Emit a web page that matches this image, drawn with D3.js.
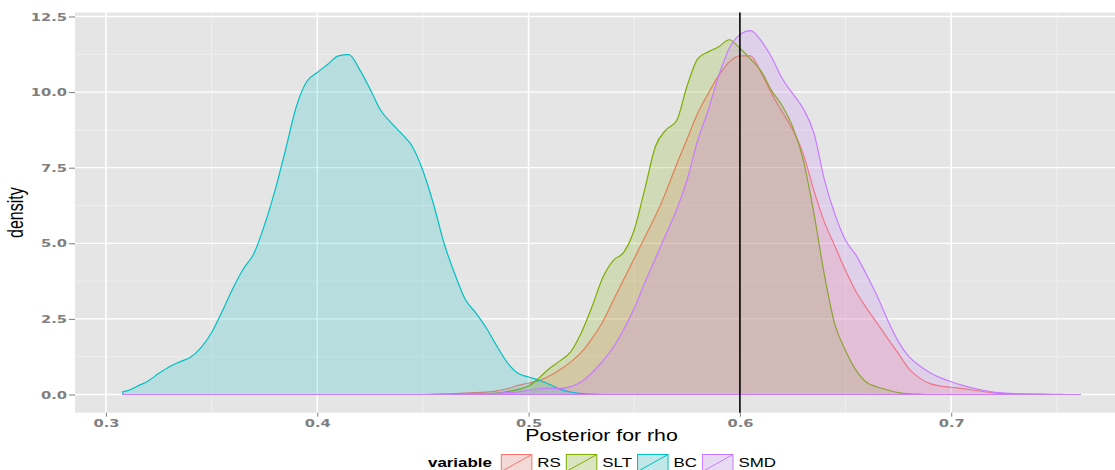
<!DOCTYPE html>
<html>
<head>
<meta charset="utf-8">
<script src="https://cdn.jsdelivr.net/npm/d3@7"></script>
<style>
  body { margin: 0; background: #fff; }
  svg { display: block; }
</style>
</head>
<body>
<div id="chart"></div>
<script>
// x grid (posterior for rho) shared by all four density curves
var rho = [0.308, 0.310, 0.315, 0.320, 0.325, 0.330, 0.335, 0.340, 0.345, 0.350,
  0.355, 0.360, 0.365, 0.370, 0.375, 0.380, 0.385, 0.390, 0.395, 0.400,
  0.405, 0.410, 0.415, 0.420, 0.425, 0.430, 0.435, 0.440, 0.445, 0.450,
  0.455, 0.460, 0.465, 0.470, 0.475, 0.480, 0.485, 0.490, 0.495, 0.500,
  0.505, 0.510, 0.515, 0.520, 0.525, 0.530, 0.535, 0.540, 0.545, 0.550,
  0.555, 0.560, 0.565, 0.570, 0.575, 0.580, 0.585, 0.590, 0.595, 0.600,
  0.605, 0.610, 0.615, 0.620, 0.625, 0.630, 0.635, 0.640, 0.645, 0.650,
  0.655, 0.660, 0.665, 0.670, 0.675, 0.680, 0.685, 0.690, 0.695, 0.700,
  0.705, 0.710, 0.715, 0.720, 0.725, 0.730, 0.735, 0.740, 0.745, 0.750,
  0.755, 0.760, 0.761];

var rs = [0, 0, 0, 0, 0, 0, 0, 0, 0, 0,
  0, 0, 0, 0, 0, 0, 0, 0, 0, 0,
  0, 0, 0, 0, 0, 0, 0, 0, 0, 0,
  0.01, 0.02, 0.03, 0.05, 0.06, 0.08, 0.12, 0.19, 0.30, 0.38,
  0.46, 0.62, 0.83, 1.08, 1.40, 1.85, 2.40, 3.10, 3.80, 4.50,
  5.20, 5.90, 6.70, 7.60, 8.45, 9.30, 9.95, 10.55, 11.00, 11.20,
  11.20, 10.65, 9.95, 9.35, 8.75, 7.95, 6.75, 5.70, 4.90, 4.10,
  3.40, 2.85, 2.35, 1.85, 1.35, 0.85, 0.55, 0.36, 0.28, 0.24,
  0.20, 0.15, 0.10, 0.05, 0.03, 0.02, 0.01, 0.01, 0, 0,
  0, 0, 0];

var slt = [0, 0, 0, 0, 0, 0, 0, 0, 0, 0,
  0, 0, 0, 0, 0, 0, 0, 0, 0, 0,
  0, 0, 0, 0, 0, 0, 0, 0, 0, 0,
  0, 0, 0, 0.01, 0.02, 0.03, 0.05, 0.10, 0.17, 0.28,
  0.55, 0.87, 1.12, 1.42, 2.05, 2.90, 3.85, 4.43, 4.70, 5.45,
  6.80, 8.20, 8.75, 9.05, 10.20, 11.10, 11.33, 11.50, 11.73, 11.45,
  11.10, 10.70, 10.05, 9.55, 8.85, 7.75, 6.00, 3.95, 2.30, 1.45,
  0.80, 0.40, 0.25, 0.15, 0.06, 0.02, 0.01, 0, 0, 0,
  0, 0, 0, 0, 0, 0, 0, 0, 0, 0,
  0, 0, 0];

var bc = [0.10, 0.12, 0.28, 0.45, 0.70, 0.92, 1.08, 1.23, 1.55, 2.05,
  2.75, 3.50, 4.15, 4.66, 5.60, 6.75, 8.10, 9.50, 10.35, 10.65,
  10.92, 11.20, 11.24, 10.75, 10.10, 9.40, 8.98, 8.62, 8.20, 7.40,
  6.30, 5.00, 4.00, 3.15, 2.70, 2.20, 1.60, 1.05, 0.70, 0.58,
  0.47, 0.33, 0.17, 0.08, 0.03, 0.01, 0, 0, 0, 0,
  0, 0, 0, 0, 0, 0, 0, 0, 0, 0,
  0, 0, 0, 0, 0, 0, 0, 0, 0, 0,
  0, 0, 0, 0, 0, 0, 0, 0, 0, 0,
  0, 0, 0, 0, 0, 0, 0, 0, 0, 0,
  0, 0, 0];

var smd = [0, 0, 0, 0, 0, 0, 0, 0, 0, 0,
  0, 0, 0, 0, 0, 0, 0, 0, 0, 0,
  0, 0, 0, 0, 0, 0, 0, 0, 0, 0,
  0, 0, 0, 0.01, 0.02, 0.03, 0.04, 0.06, 0.09, 0.14,
  0.19, 0.21, 0.20, 0.26, 0.42, 0.72, 1.10, 1.55, 2.15, 2.85,
  3.70, 4.50, 5.30, 6.10, 7.10, 8.40, 9.40, 10.55, 11.45, 11.90,
  12.03, 11.70, 11.15, 10.45, 9.95, 9.45, 8.65, 7.10, 5.95, 5.10,
  4.60, 3.95, 3.25, 2.45, 1.75, 1.25, 0.95, 0.72, 0.55, 0.42,
  0.31, 0.22, 0.14, 0.08, 0.05, 0.03, 0.02, 0.01, 0.01, 0.005,
  0, 0, 0];

var seriesNames = ["RS", "SLT", "BC", "SMD"];
var seriesColors = ["#F8766D", "#7CAE00", "#00BFC4", "#C77CFF"];
var seriesValues = [rs, slt, bc, smd];

var xMajor = [0.3, 0.4, 0.5, 0.6, 0.7];
var xMinor = [0.35, 0.45, 0.55, 0.65, 0.75];
var yMajor = [0, 2.5, 5, 7.5, 10, 12.5];
var yMinor = [1.25, 3.75, 6.25, 8.75, 11.25];
var refLine = 0.6;

var svgWidth = 1115;
var svgHeight = 470;

// panel box (right side runs past the picture edge, as in the original)
var panel = { left: 75, top: 12.5, right: 1128, bottom: 412.7 };

var svg = d3.select("#chart")
  .append("svg")
  .attr("width", svgWidth)
  .attr("height", svgHeight);

// ggplot style 5% expansion of the data range
var xExt = d3.extent(rho);
var xPad = (xExt[1] - xExt[0]) * 0.05;
var xScale = d3.scaleLinear()
  .domain([xExt[0] - xPad, xExt[1] + xPad])
  .range([panel.left, panel.right]);

var yMax = d3.max(seriesValues, function(s) { return d3.max(s); });
var yPad = yMax * 0.05;
var yScale = d3.scaleLinear()
  .domain([-yPad, yMax + yPad])
  .range([panel.bottom, panel.top]);

// panel background
svg.append("rect")
  .attr("x", panel.left)
  .attr("y", panel.top)
  .attr("width", panel.right - panel.left)
  .attr("height", panel.bottom - panel.top)
  .attr("fill", "#E5E5E5");

// minor grid
var grid = svg.append("g");
grid.selectAll(".xminor").data(xMinor).enter().append("line")
  .attr("x1", function(d) { return xScale(d); })
  .attr("x2", function(d) { return xScale(d); })
  .attr("y1", panel.top).attr("y2", panel.bottom)
  .attr("stroke", "#F2F2F2").attr("stroke-width", 0.8);
grid.selectAll(".yminor").data(yMinor).enter().append("line")
  .attr("x1", panel.left).attr("x2", panel.right)
  .attr("y1", function(d) { return yScale(d); })
  .attr("y2", function(d) { return yScale(d); })
  .attr("stroke", "#F2F2F2").attr("stroke-width", 0.8);

// major grid
grid.selectAll(".xmajor").data(xMajor).enter().append("line")
  .attr("x1", function(d) { return xScale(d); })
  .attr("x2", function(d) { return xScale(d); })
  .attr("y1", panel.top).attr("y2", panel.bottom)
  .attr("stroke", "#FFFFFF").attr("stroke-width", 1.6);
grid.selectAll(".ymajor").data(yMajor).enter().append("line")
  .attr("x1", panel.left).attr("x2", panel.right)
  .attr("y1", function(d) { return yScale(d); })
  .attr("y2", function(d) { return yScale(d); })
  .attr("stroke", "#FFFFFF").attr("stroke-width", 1.3);

// density areas, drawn in factor order
var area = d3.area()
  .x(function(d, i) { return xScale(rho[i]); })
  .y0(yScale(0))
  .y1(function(d) { return yScale(d); })
  .curve(d3.curveMonotoneX);

svg.append("g").selectAll("path")
  .data(seriesValues)
  .enter()
  .append("path")
  .attr("d", function(d) { return area(d); })
  .attr("fill", function(d, i) { return seriesColors[i]; })
  .attr("fill-opacity", 0.2)
  .attr("stroke", function(d, i) { return seriesColors[i]; })
  .attr("stroke-width", 1.2)
  .attr("stroke-linejoin", "round");

// reference line at rho = 0.6
svg.append("line")
  .attr("x1", xScale(refLine)).attr("x2", xScale(refLine))
  .attr("y1", panel.top).attr("y2", panel.bottom)
  .attr("stroke", "#000").attr("stroke-width", 1.6);

// text is stretched sideways in the original picture
var stretch = 1.47;
var titleStretch = 1.33;

// axes
var xAxis = d3.axisBottom(xScale).tickValues(xMajor).tickSize(4).tickPadding(4)
  .tickFormat(d3.format(".1f"));
var yAxis = d3.axisLeft(yScale).tickValues(yMajor).tickSize(6).tickPadding(2)
  .tickFormat(d3.format(".1f"));

var gx = svg.append("g")
  .attr("transform", "translate(0," + panel.bottom + ")")
  .call(xAxis);
var gy = svg.append("g")
  .attr("transform", "translate(" + panel.left + ",0)")
  .call(yAxis);

[gx, gy].forEach(function(g) {
  g.select(".domain").remove();
  g.selectAll(".tick line").attr("stroke", "#7F7F7F").attr("stroke-width", 1);
  g.selectAll(".tick text")
    .attr("fill", "#7F7F7F")
    .attr("font-family", "DejaVu Sans")
    .attr("font-weight", "bold")
    .attr("font-size", 10);
});

gx.selectAll(".tick text")
  .attr("y", null).attr("dy", null)
  .attr("transform", "translate(0,14) scale(" + stretch + ",1)");
gy.selectAll(".tick text")
  .attr("x", null).attr("dy", null)
  .attr("transform", "translate(-8,3.6) scale(" + stretch + ",1)");

// axis titles
svg.append("text")
  .attr("transform", "translate(" + ((panel.left + panel.right) / 2) + ",440.5) scale(" + titleStretch + ",1)")
  .attr("text-anchor", "middle")
  .attr("font-family", "Liberation Sans")
  .attr("font-size", 16)
  .attr("fill", "#000")
  .text("Posterior for rho");

svg.append("text")
  .attr("transform", "translate(23," + ((panel.top + panel.bottom) / 2) + ") scale(" + titleStretch + ",1) rotate(-90)")
  .attr("text-anchor", "middle")
  .attr("font-family", "Liberation Sans")
  .attr("font-size", 16)
  .attr("fill", "#000")
  .text("density");

// legend along the bottom
var legend = svg.append("g").attr("transform", "translate(0,454)");
var keyW = 31.5, keyH = 17, legStretch = 1.3;
var cursor = 428;

var legTitle = legend.append("text")
  .attr("font-family", "Liberation Sans")
  .attr("font-weight", "bold")
  .attr("font-size", 13)
  .attr("transform", "translate(" + cursor + ",13) scale(" + legStretch + ",1)")
  .text("variable");
cursor += legTitle.node().getComputedTextLength() * legStretch + 9;

seriesNames.forEach(function(name, i) {
  var key = legend.append("g").attr("transform", "translate(" + cursor + ",0)");
  key.append("rect")
    .attr("x", 0.5).attr("y", 0.5)
    .attr("width", keyW - 1).attr("height", keyH)
    .attr("fill", "#F2F2F2");
  key.append("rect")
    .attr("x", 0.5).attr("y", 0.5)
    .attr("width", keyW - 1).attr("height", keyH)
    .attr("fill", seriesColors[i]).attr("fill-opacity", 0.2)
    .attr("stroke", seriesColors[i]).attr("stroke-width", 1);
  key.append("line")
    .attr("x1", 0.5).attr("y1", keyH + 0.5)
    .attr("x2", keyW - 0.5).attr("y2", 0.5)
    .attr("stroke", seriesColors[i]).attr("stroke-width", 1);
  var label = legend.append("text")
    .attr("font-family", "Liberation Sans")
    .attr("font-size", 13)
    .attr("transform", "translate(" + (cursor + keyW + 5) + ",13) scale(" + legStretch + ",1)")
    .text(name);
  cursor += keyW + 5 + label.node().getComputedTextLength() * legStretch + 5;
});
</script>
</body>
</html>
